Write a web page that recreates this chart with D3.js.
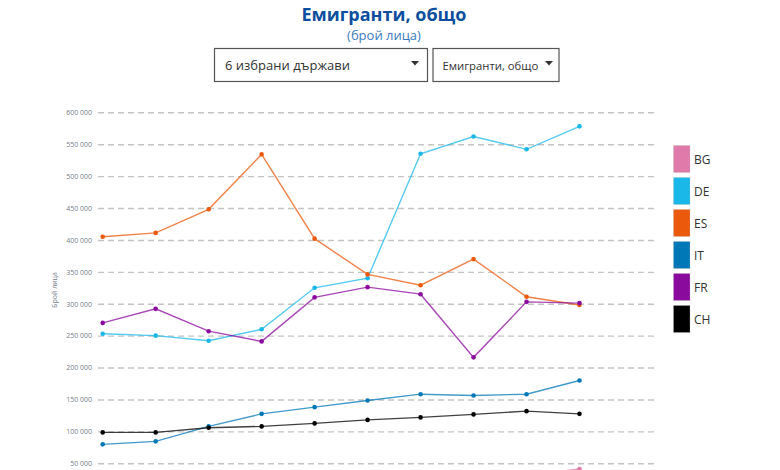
<!DOCTYPE html>
<html><head><meta charset="utf-8">
<script src="https://cdn.jsdelivr.net/npm/d3@7"></script>
<style>
html,body{margin:0;padding:0;overflow:hidden;background:#fff;}
svg{display:block;font-family:"Open Sans",sans-serif;}
</style></head>
<body>
<svg id="c" width="780" height="470"></svg>
<script>
const years = [2008,2009,2010,2011,2012,2013,2014,2015,2016,2017];
const countries = ["BG","DE","ES","IT","FR","CH"];
const colors = ["#e07aaa","#1ab8e8","#eb5a0c","#0078b8","#8b0a9e","#000000"];
const BG = [19000,20000,16000,14000,15000,17000,21000,25000,31000,41000];
const DE = [253000,250000,242000,260000,325000,340000,535000,562000,542000,578000];
const ES = [405000,411000,448000,534000,402000,346000,329000,370000,311000,298000];
const IT = [79700,84400,107800,127500,138000,148400,158300,156300,158300,179700];
const FR = [270000,292000,257000,241000,310000,326000,315000,216000,303000,301000];
const CH = [98400,98400,105600,107800,112500,118000,121900,126600,131700,127500];
const seriesVals = [BG,DE,ES,IT,FR,CH];
const yTicks = [50000,100000,150000,200000,250000,300000,350000,400000,450000,500000,550000,600000];
const title = "Емигранти, общо";
const subtitle = "(брой лица)";
const yLabel = "Брой лица";
const drop1 = "6 избрани държави";
const drop2 = "Емигранти, общо";

const svg = d3.select("#c");
const x = d3.scaleLinear().domain([years[0], years[years.length-1]]).range([102.7, 579.5]);
const y = d3.scaleLinear().domain([0, 600000]).range([495.2, 112.3]);
const fmt = v => d3.format(",")(v).replace(/,/g, " ");

svg.append("clipPath").attr("id","plotclip").append("rect")
  .attr("x",0).attr("y",0).attr("width",780).attr("height",470);

// title
svg.append("text").attr("x",384).attr("y",21).attr("text-anchor","middle")
  .attr("font-size",18).attr("font-weight","bold").attr("fill","#0d4f9e").text(title);
svg.append("text").attr("x",384).attr("y",40).attr("text-anchor","middle")
  .attr("font-size",13).attr("fill","#3a7bbf").text(subtitle);

// dropdowns
function dropdown(x0, w, label, caretX, fs, tx){
  const g = svg.append("g");
  g.append("rect").attr("x",x0+0.5).attr("y",48.5).attr("width",w).attr("height",33)
    .attr("fill","#fff").attr("stroke","#555").attr("stroke-width",1.2);
  g.append("text").attr("x",x0+tx).attr("y",70).attr("font-size",fs).attr("fill","#333").text(label);
  g.append("path").attr("d",`M${caretX-4},61 L${caretX+4},61 L${caretX},65.5 Z`).attr("fill","#333");
}
dropdown(214, 213, drop1, 415, 13, 11);
dropdown(432.5, 126, drop2, 549, 11.3, 10);

// grid + y ticks
const yAxis = d3.axisLeft(y).tickValues(yTicks).tickFormat(fmt).tickSize(-(655-98)).tickPadding(6);
const ga = svg.append("g").attr("transform","translate(98,0)").call(yAxis);
ga.select(".domain").remove();
ga.selectAll(".tick line").attr("stroke","#c4c4c4").attr("stroke-width",1.4).attr("stroke-dasharray","6,4");
ga.selectAll(".tick text").attr("font-size",7).attr("fill","#76808c").attr("font-family","Open Sans, sans-serif");

svg.append("text").attr("transform","translate(57,290) rotate(-90)").attr("text-anchor","middle")
  .attr("font-size",7).attr("fill","#76808c").text(yLabel);

// lines
const plot = svg.append("g").attr("clip-path","url(#plotclip)");
const line = d3.line().x((d,i)=>x(years[i])).y(d=>y(d));
countries.forEach((c,k)=>{
  const vals = seriesVals[k];
  plot.append("path").datum(vals).attr("d",line).attr("fill","none")
    .attr("stroke",colors[k]).attr("stroke-width",1.4).attr("stroke-opacity",0.75);
  plot.append("g").selectAll("circle").data(vals).join("circle")
    .attr("cx",(d,i)=>x(years[i])).attr("cy",d=>y(d)).attr("r",2.3).attr("fill",colors[k]);
});

// legend
const lg = svg.append("g");
countries.forEach((c,k)=>{
  const yy = 145 + k*32;
  lg.append("rect").attr("x",673.5).attr("y",yy+0.5).attr("width",16.5).attr("height",27)
    .attr("fill",colors[k]).attr("stroke","#bbb").attr("stroke-opacity",0.5).attr("stroke-width",0.6);
  lg.append("text").attr("x",694).attr("y",yy+18.5).attr("font-size",12).attr("fill","#333").text(c);
});
</script>
</body></html>
